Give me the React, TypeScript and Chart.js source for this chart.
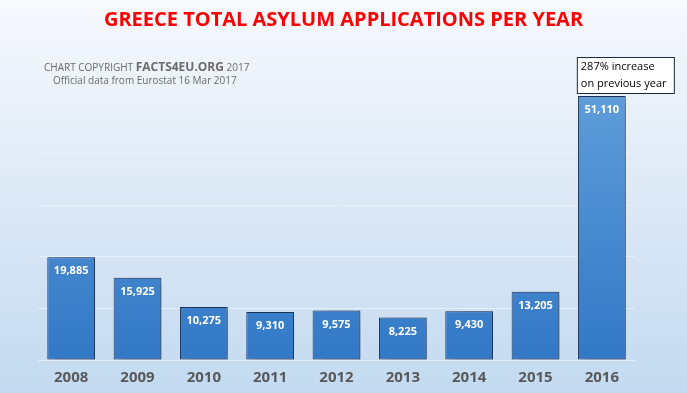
import React, { useEffect, useRef } from "react";
import { Chart, registerables } from "chart.js";

Chart.register(...registerables);

const years = ["2008", "2009", "2010", "2011", "2012", "2013", "2014", "2015", "2016"];
const applications = [19885, 15925, 10275, 9310, 9575, 8225, 9430, 13205, 51110];
const titleText = "GREECE TOTAL ASYLUM APPLICATIONS PER YEAR";
const noteLines = ["287% increase", "on previous year"];

const fmt = (v: number) => v.toLocaleString("en-US");

const decorPlugin = {
  id: "decor",
  beforeDraw(chart: any) {
    const { ctx, width, height } = chart;
    ctx.save();
    const g = ctx.createLinearGradient(0, 0, 0, height);
    g.addColorStop(0, "#f7f9fd");
    g.addColorStop(0.5, "#dde9f6");
    g.addColorStop(1, "#c3daf0");
    ctx.fillStyle = g;
    ctx.fillRect(0, 0, width, height);
    ctx.fillStyle = "#ff0000";
    ctx.font = "bold 20px 'Open Sans', 'Liberation Sans', sans-serif";
    ctx.textAlign = "center";
    ctx.textBaseline = "middle";
    ctx.fillText(titleText, width / 2, 20);
    ctx.restore();
  },
  beforeDatasetsDraw(chart: any) {
    const { ctx } = chart;
    ctx.save();
    ctx.shadowColor = "rgba(30,40,60,0.4)";
    ctx.shadowBlur = 10;
    ctx.shadowOffsetX = 8;
    ctx.shadowOffsetY = 2;
  },
  afterDatasetsDraw(chart: any) {
    const { ctx } = chart;
    ctx.restore();
    ctx.save();
    const meta = chart.getDatasetMeta(0);
    ctx.fillStyle = "#ffffff";
    ctx.font = "bold 11px 'Open Sans', 'Liberation Sans', sans-serif";
    ctx.textAlign = "center";
    ctx.textBaseline = "middle";
    meta.data.forEach((bar: any, i: number) => {
      ctx.fillText(fmt(applications[i]), bar.x, bar.y + 14);
    });
    ctx.fillStyle = "#6b6b6b";
    ctx.textAlign = "left";
    ctx.textBaseline = "alphabetic";
    let x = 44;
    const y1 = 71;
    ctx.font = "10px 'Open Sans', 'Liberation Sans', sans-serif";
    const p1 = "CHART COPYRIGHT ";
    ctx.fillText(p1, x, y1);
    x += ctx.measureText(p1).width;
    ctx.font = "bold 12px 'Open Sans', 'Liberation Sans', sans-serif";
    const p2 = "FACTS4EU.ORG";
    ctx.fillText(p2, x, y1);
    x += ctx.measureText(p2).width;
    ctx.font = "10px 'Open Sans', 'Liberation Sans', sans-serif";
    ctx.fillText(" 2017", x, y1);
    ctx.fillText("Official data from Eurostat 16 Mar 2017", 53, 84);
    const last = meta.data[meta.data.length - 1];
    const bx = last.x - 25;
    const by = 57;
    const bw = 97;
    const bh = 36;
    ctx.fillStyle = "#ffffff";
    ctx.fillRect(bx, by, bw, bh);
    ctx.strokeStyle = "#1a2a40";
    ctx.lineWidth = 1;
    ctx.strokeRect(bx + 0.5, by + 0.5, bw, bh);
    ctx.fillStyle = "#000000";
    ctx.font = "11px 'Open Sans', 'Liberation Sans', sans-serif";
    ctx.textBaseline = "middle";
    ctx.fillText(noteLines[0], bx + 4, by + 10);
    ctx.fillText(noteLines[1], bx + 4, by + 27);
    ctx.restore();
  },
};

export default function App() {
  const ref = useRef<HTMLCanvasElement>(null);
  useEffect(() => {
    document.body.style.margin = "0";
    const canvas = ref.current!;
    const chart = new Chart(canvas, {
      type: "bar",
      data: {
        labels: years,
        datasets: [
          {
            data: applications,
            backgroundColor: (c: any) => {
              const area = c.chart.chartArea;
              if (!area) return "#4a8cd2";
              const g = c.chart.ctx.createLinearGradient(0, area.top, 0, area.bottom);
              g.addColorStop(0, "#66a3dd");
              g.addColorStop(1, "#3278c6");
              return g;
            },
            borderColor: "#1c3358",
            borderWidth: 1,
            borderSkipped: false,
            barPercentage: 0.72,
            categoryPercentage: 1,
          },
        ],
      },
      options: {
        responsive: false,
        animation: false,
        devicePixelRatio: 1,
        layout: { padding: { left: 38, right: 52, top: 50, bottom: 5 } },
        plugins: { legend: { display: false }, tooltip: { enabled: false }, title: { display: false } },
        scales: {
          x: {
            grid: { display: false },
            border: { display: false },
            ticks: {
              color: "#595959",
              font: { size: 15, weight: "bold", family: "'Open Sans', 'Liberation Sans', sans-serif" },
              padding: 1,
            },
          },
          y: {
            min: 0,
            max: 60000,
            ticks: { display: false, stepSize: 10000 },
            border: { display: false },
            grid: { color: "rgba(235,240,248,0.9)", lineWidth: 1, drawTicks: false },
          },
        },
      },
      plugins: [decorPlugin],
    });
    return () => chart.destroy();
  }, []);
  return <canvas ref={ref} width={687} height={393} style={{ display: "block" }} />;
}
